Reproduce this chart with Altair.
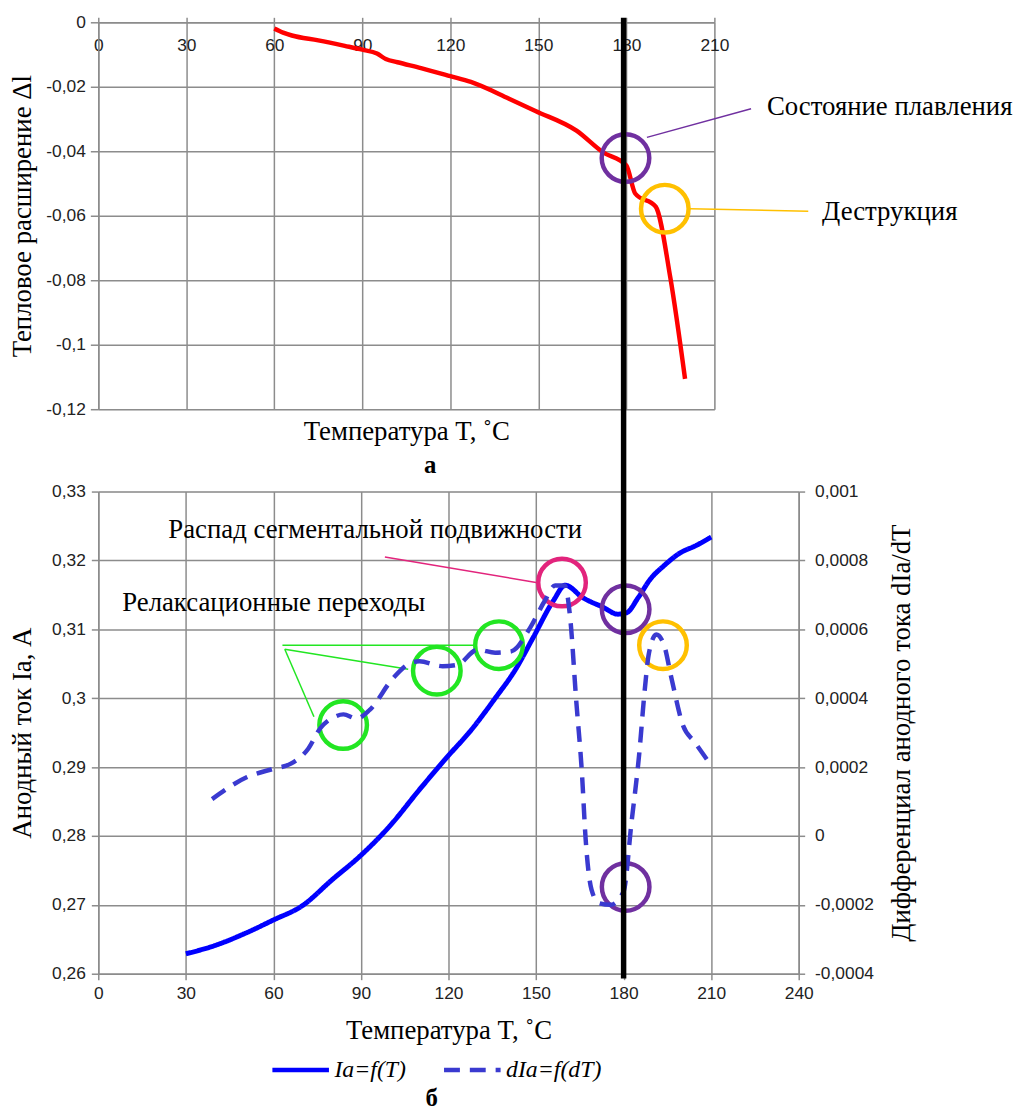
import altair as alt
import pandas as pd

# ---------------- data: panel "а" (thermal expansion) ----------------
exp_T = [60, 63, 66, 75, 84, 90, 95, 98, 102, 110, 120, 127, 140, 149, 163, 172, 180, 183, 190, 195, 200]
exp_dl = [-0.0019, -0.0032, -0.0041, -0.0056, -0.0073, -0.0085, -0.0097, -0.0114, -0.0124, -0.0142,
          -0.0167, -0.0185, -0.0237, -0.0275, -0.0336, -0.0403, -0.0444, -0.0531, -0.0572, -0.0793, -0.1106]

top_x_ticks = [0, 30, 60, 90, 120, 150, 180, 210]
top_y_ticks = [0, -0.02, -0.04, -0.06, -0.08, -0.1, -0.12]

mark_top_T = [179.7, 193.1]
mark_top_v = [-0.0421, -0.0578]
mark_top_kind = ["melting", "destruction"]

lead_top_T1 = [187.0, 201.7]
lead_top_v1 = [-0.0357, -0.0578]
lead_top_T2 = [222.5, 242.0]
lead_top_v2 = [-0.0268, -0.0586]
lead_top_kind = ["melting", "destruction"]

label_top_text = ["Состояние плавления", "Деструкция"]
label_top_T = [227.9, 246.7]
label_top_v = [-0.0262, -0.0590]

# ---------------- data: panel "б" (anode current) ----------------
ia_T = [30, 40, 50, 60, 70, 80, 90, 100, 110, 119, 128, 136, 143, 149, 156, 160, 166, 173, 178, 181,
        185, 189, 194, 199, 205, 210]
ia_val = [0.2629, 0.2641, 0.2658, 0.2678, 0.2699, 0.2736, 0.2772, 0.2815, 0.2867, 0.2912, 0.2955, 0.3,
          0.3042, 0.3088, 0.3142, 0.3164, 0.3146, 0.3132, 0.3122, 0.3124, 0.3146, 0.3172, 0.3193, 0.321,
          0.3222, 0.3234]

d_T = [39, 51, 60, 66, 72, 76, 81, 84, 88.5, 93, 101, 107, 110, 118, 123, 130, 136, 141.5, 148, 153,
       156.5, 159.8, 161.8, 163.7, 165.7, 167, 169, 171.6, 175.5, 180, 182.7, 185.3, 187.3, 188.6,
       191.2, 193.8, 196.4, 200.3, 204.3, 210]
d_val = [0.000107, 0.000171, 0.000195, 0.00021, 0.000254, 0.000312, 0.000346, 0.000353, 0.000341,
         0.000366, 0.000458, 0.000502, 0.000507, 0.000493, 0.000497, 0.000541, 0.000532, 0.000536,
         0.000605, 0.000683, 0.000727, 0.000727, 0.000624, 0.0004, 0.000185, -0.00001, -0.000156,
         -0.000195, -0.0002, -0.000161, 0.000039, 0.000234, 0.000429, 0.000527, 0.000585, 0.000556,
         0.000458, 0.000322, 0.000273, 0.000205]

series_names = ["Ia=f(T)", "dIa=f(dT)"]

bot_x_ticks = [0, 30, 60, 90, 120, 150, 180, 210, 240]
bot_yl_ticks = [0.26, 0.27, 0.28, 0.29, 0.3, 0.31, 0.32, 0.33]
bot_yr_ticks = [-0.0004, -0.0002, 0, 0.0002, 0.0004, 0.0006, 0.0008, 0.001]

mark_bot_T = [83.9, 116.0, 137.3, 158.9, 180.7, 193.5, 180.7]
mark_bot_ia = [0.2961, 0.3040, 0.3077, 0.3168, 0.3129, 0.3077, 0.2726]
mark_bot_kind = ["relaxation", "relaxation", "relaxation", "segmental", "melting", "destruction", "melting"]

lead_bot_T1 = [63.1, 63.9, 63.9, 98.2]
lead_bot_ia1 = [0.3077, 0.3071, 0.3071, 0.3205]
lead_bot_T2 = [128.4, 106.2, 73.9, 150.0]
lead_bot_ia2 = [0.3077, 0.3042, 0.2973, 0.3168]
lead_bot_kind = ["relaxation", "relaxation", "relaxation", "segmental"]

label_bot_text = ["Распад сегментальной подвижности", "Релаксационные переходы"]
label_bot_T = [24.0, 8.2]
label_bot_ia = [0.3244, 0.3138]

marker_T = [180]
marker_top = [0.3988]
marker_bottom = [0.2593]

kinds = ["melting", "destruction", "relaxation", "segmental"]
kind_colors = ["#7030A0", "#FFC000", "#22E622", "#E2247C"]

# ---------------- styling ----------------
SANS = "Liberation Sans"
SERIF = "Liberation Serif"
GRID = "#8c8c8c"
LABEL_EXPR = "replace(replace(format(datum.value, '~g'), '.', ','), '\u2212', '-')"
NOTE_SIZE = 27

kind_scale = alt.Scale(domain=kinds, range=kind_colors)

common_axis = dict(gridColor=GRID, gridWidth=1.5, domainColor=GRID, domainWidth=1.5,
                   tickColor=GRID, tickWidth=1.5, labelFont=SANS, labelFontSize=17.5,
                   labelColor="#222", labelFlush=False, labelOverlap=False,
                   titleFont=SERIF, titleFontSize=27, titleFontWeight="normal", titleColor="#000")

# ================= top panel =================
xt = alt.Scale(domain=[0, 210], nice=False, zero=False)
yt = alt.Scale(domain=[-0.12, 0], nice=False, zero=False)

df_exp = pd.DataFrame({"T": exp_T, "dl": exp_dl})
df_mt = pd.DataFrame({"T": mark_top_T, "v": mark_top_v, "kind": mark_top_kind})
df_lt = pd.DataFrame({"T1": lead_top_T1, "v1": lead_top_v1, "T2": lead_top_T2, "v2": lead_top_v2,
                      "kind": lead_top_kind})
df_tt = pd.DataFrame({"T": label_top_T, "v": label_top_v, "text": label_top_text})

x_top_axis = alt.Axis(orient="top", values=top_x_ticks, grid=True, tickSize=5, labelPadding=-28,
                      labelBaseline="middle", title="Температура T, ˚C", titleY=413,
                      titleBaseline="middle", **common_axis)
y_top_axis = alt.Axis(values=top_y_ticks, grid=True, tickSize=8, labelPadding=5, labelExpr=LABEL_EXPR,
                      title="Тепловое расширение Δl", titlePadding=9, **common_axis)

TX = dict(scale=xt, axis=x_top_axis)
TY = dict(scale=yt, axis=y_top_axis)

top_line = alt.Chart(df_exp).mark_line(color="#FF0000", strokeWidth=4.5, interpolate="monotone").encode(
    x=alt.X("T:Q", **TX),
    y=alt.Y("dl:Q", **TY),
)
top_circles = alt.Chart(df_mt).mark_point(shape="circle", filled=False, size=2300, strokeWidth=4.5,
                                          opacity=1).encode(
    x=alt.X("T:Q", **TX),
    y=alt.Y("v:Q", **TY),
    stroke=alt.Stroke("kind:N", scale=kind_scale, legend=None),
)
top_leads = alt.Chart(df_lt).mark_rule(strokeWidth=1.5).encode(
    x=alt.X("T1:Q", **TX),
    y=alt.Y("v1:Q", **TY),
    x2="T2:Q", y2="v2:Q",
    stroke=alt.Stroke("kind:N", scale=kind_scale, legend=None),
)
top_texts = alt.Chart(df_tt).mark_text(align="left", baseline="middle", font=SERIF, fontSize=NOTE_SIZE,
                                       color="#000").encode(
    x=alt.X("T:Q", **TX),
    y=alt.Y("v:Q", **TY),
    text="text:N",
)

top = alt.layer(top_line, top_circles, top_leads, top_texts).properties(
    width=621, height=390,
    title=alt.TitleParams("а", orient="bottom", anchor="middle", frame="group", dx=24, offset=8,
                          font=SERIF, fontSize=25, fontWeight="bold", color="#000"),
)

# ================= bottom panel =================
xb = alt.Scale(domain=[0, 240], nice=False, zero=False)
ybl = alt.Scale(domain=[0.26, 0.33], nice=False, zero=False)
ybr = alt.Scale(domain=[-0.0004, 0.001], nice=False, zero=False)
color_scale = alt.Scale(domain=series_names, range=["#0000FF", "#3A3AD0"])
dash_scale = alt.Scale(domain=series_names, range=[[1, 0], [16, 10]])

leg = alt.Legend(orient="none", legendX=173, legendY=1025, direction="horizontal", title=None,
                 symbolType="stroke", symbolSize=3249, symbolStrokeWidth=4.5, labelFont=SERIF,
                 labelFontStyle="italic", labelFontSize=24, labelColor="#000", labelOffset=3,
                 columnPadding=28, padding=0, labelLimit=0)

df_ia = pd.DataFrame({"T": ia_T, "Ia": ia_val, "series": series_names[0]})
df_d = pd.DataFrame({"T": d_T, "d": d_val, "series": series_names[1]})
df_mb = pd.DataFrame({"T": mark_bot_T, "Ia": mark_bot_ia, "kind": mark_bot_kind})
df_lb = pd.DataFrame({"T1": lead_bot_T1, "y1": lead_bot_ia1, "T2": lead_bot_T2, "y2": lead_bot_ia2,
                      "kind": lead_bot_kind})
df_tb = pd.DataFrame({"T": label_bot_T, "Ia": label_bot_ia, "text": label_bot_text})
df_mk = pd.DataFrame({"T": marker_T, "top": marker_top, "bottom": marker_bottom})

x_bot_axis = alt.Axis(values=bot_x_ticks, grid=True, tickSize=6, labelPadding=5,
                      title="Температура T, ˚C", titlePadding=16, **common_axis)
yl_axis = alt.Axis(values=bot_yl_ticks, grid=True, tickSize=7, labelPadding=6, labelExpr=LABEL_EXPR,
                   title="Анодный ток Ia, А", titlePadding=15, **common_axis)
yr_axis = alt.Axis(orient="right", values=bot_yr_ticks, grid=False, tickSize=6, labelPadding=10,
                   labelExpr=LABEL_EXPR, title="Дифференциал анодного тока dIa/dT", titleAngle=270,
                   titleBaseline="top", titlePadding=15, **common_axis)

BX = dict(scale=xb, axis=x_bot_axis)
BY = dict(scale=ybl, axis=yl_axis)

ia_line = alt.Chart(df_ia).mark_line(strokeWidth=5, interpolate="monotone").encode(
    x=alt.X("T:Q", **BX),
    y=alt.Y("Ia:Q", **BY),
    color=alt.Color("series:N", scale=color_scale, legend=leg),
    strokeDash=alt.StrokeDash("series:N", scale=dash_scale, legend=leg),
)
bot_circles = alt.Chart(df_mb).mark_point(shape="circle", filled=False, size=2300, strokeWidth=4.5,
                                          opacity=1).encode(
    x=alt.X("T:Q", **BX),
    y=alt.Y("Ia:Q", **BY),
    stroke=alt.Stroke("kind:N", scale=kind_scale, legend=None),
)
bot_leads = alt.Chart(df_lb).mark_rule(strokeWidth=1.5).encode(
    x=alt.X("T1:Q", **BX),
    y=alt.Y("y1:Q", **BY),
    x2="T2:Q", y2="y2:Q",
    stroke=alt.Stroke("kind:N", scale=kind_scale, legend=None),
)
bot_texts = alt.Chart(df_tb).mark_text(align="left", baseline="middle", font=SERIF, fontSize=NOTE_SIZE,
                                       color="#000").encode(
    x=alt.X("T:Q", **BX),
    y=alt.Y("Ia:Q", **BY),
    text="text:N",
)
d_line = alt.Chart(df_d).mark_line(strokeWidth=4.5, interpolate="monotone").encode(
    x=alt.X("T:Q", **BX),
    y=alt.Y("d:Q", scale=ybr, axis=yr_axis),
    color=alt.Color("series:N", scale=color_scale, legend=leg),
    strokeDash=alt.StrokeDash("series:N", scale=dash_scale, legend=leg),
)
marker = alt.Chart(df_mk).mark_rule(color="#000", strokeWidth=5.5).encode(
    x=alt.X("T:Q", **BX),
    y=alt.Y("top:Q", scale=ybl, axis=None),
    y2="bottom:Q",
)

left_group = alt.layer(ia_line, bot_circles, bot_leads, bot_texts)
bottom = alt.layer(left_group, d_line, marker).resolve_scale(y="independent").properties(
    width=706, height=486,
    title=alt.TitleParams("б", orient="bottom", anchor="middle", frame="group", dx=-17, offset=43,
                          font=SERIF, fontSize=25, fontWeight="bold", color="#000"),
)

chart = alt.vconcat(top, bottom, spacing=83, bounds="flush").configure_view(stroke=None).properties(
    padding={"left": 0, "top": 0, "right": 0, "bottom": 0}).configure(background="#ffffff")

chart.save("out.html", embed_options={"renderer": "svg", "actions": False})
